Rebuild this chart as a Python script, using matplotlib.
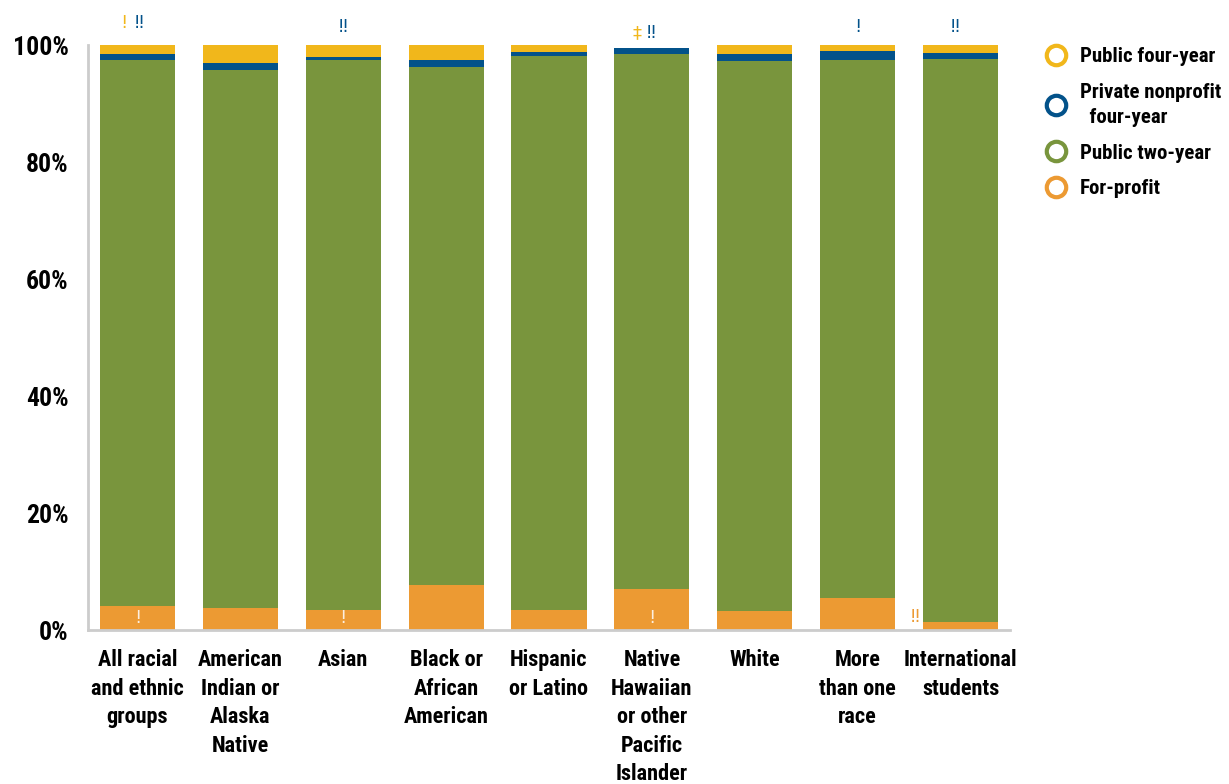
import matplotlib
matplotlib.use("Agg")
import matplotlib.pyplot as plt
from matplotlib.lines import Line2D
from matplotlib import font_manager
import numpy as np

# pick a narrow face: Roboto Condensed / Liberation Narrow / DejaVu Condensed
files = [f.fname for f in font_manager.fontManager.ttflist]
FONT = None
for key in ["RobotoCondensed", "LiberationSansNarrow", "DejaVuSansCondensed.ttf"]:
    hits = [f for f in files if key in f]
    if hits:
        FONT = font_manager.FontProperties(fname=hits[0]).get_name()
        break
if FONT == "DejaVu Sans" or FONT is None:
    plt.rcParams["font.stretch"] = "condensed"
    FONT = "DejaVu Sans"
plt.rcParams["font.family"] = [FONT, "DejaVu Sans"]
plt.rcParams["font.weight"] = "bold"

groups = [
    "All racial\nand ethnic\ngroups",
    "American\nIndian or\nAlaska\nNative",
    "Asian",
    "Black or\nAfrican\nAmerican",
    "Hispanic\nor Latino",
    "Native\nHawaiian\nor other\nPacific\nIslander",
    "White",
    "More\nthan one\nrace",
    "International\nstudents",
]

# percent of students by sector, stacked bottom to top
for_profit = [4.1, 3.8, 3.4, 7.7, 3.4, 7.0, 3.2, 5.5, 1.4]
public_two_year = [93.4, 91.9, 94.0, 88.5, 94.7, 91.5, 94.1, 92.0, 96.2]
private_nonprofit = [1.0, 1.2, 0.5, 1.2, 0.7, 1.0, 1.2, 1.5, 1.0]
public_four_year = [1.5, 3.1, 2.1, 2.6, 1.2, 0.0, 1.5, 1.0, 1.4]

C_YEL = "#F1B71B"
C_BLU = "#03528A"
C_GRN = "#79953D"
C_ORG = "#EC9A33"

fig = plt.figure(figsize=(12.29, 7.84), dpi=100)
ax = fig.add_axes([0.0716, 0.1964, 0.7502, 0.7462])

x = np.arange(len(groups))
w = 0.73
b1 = np.array(for_profit)
b2 = b1 + np.array(public_two_year)
b3 = b2 + np.array(private_nonprofit)
ax.bar(x, for_profit, w, color=C_ORG)
ax.bar(x, public_two_year, w, bottom=b1, color=C_GRN)
ax.bar(x, private_nonprofit, w, bottom=b2, color=C_BLU)
ax.bar(x, public_four_year, w, bottom=b3, color=C_YEL)

ax.set_xlim(-0.48, 8.48)
ax.set_ylim(0, 100)
ax.set_yticks([0, 20, 40, 60, 80, 100])
ax.set_yticklabels(["0%", "20%", "40%", "60%", "80%", "100%"], fontsize=18.5)
ax.set_xticks(x)
ax.set_xticklabels(groups, fontsize=16, linespacing=1.38, va="top")
ax.tick_params(axis="y", length=0, pad=14)
ax.tick_params(axis="x", length=0, pad=14)
for s in ["top", "right"]:
    ax.spines[s].set_visible(False)
for s in ["left", "bottom"]:
    ax.spines[s].set_color("#cccccc")
    ax.spines[s].set_linewidth(2)

# reliability flags above and inside the bars
flags = [
    (-0.13, 103.7, "!", C_YEL),
    (0.02, 103.7, "\u203c", C_BLU),
    (2.0, 103.1, "\u203c", C_BLU),
    (4.86, 102.1, "\u2021", C_YEL),
    (4.99, 102.1, "\u203c", C_BLU),
    (7.0, 103.1, "!", C_BLU),
    (7.95, 103.1, "\u203c", C_BLU),
    (7.56, 2.3, "\u203c", C_ORG),
]
for fx, fy, t, c in flags:
    ax.text(fx, fy, t, color=c, fontsize=13, ha="center", va="center",
            clip_on=False, family=["DejaVu Sans"], fontweight="normal")
for i in [0, 2, 5]:
    ax.text(x[i], 2.1, "!", color="white", alpha=0.85, fontsize=13,
            ha="center", va="center", family=["DejaVu Sans"], fontweight="normal")

handles = [Line2D([], [], ls="none", marker="o", markersize=14,
                  markerfacecolor="none", markeredgewidth=3, markeredgecolor=c)
           for c in [C_YEL, C_BLU, C_GRN, C_ORG]]
labels = ["Public four-year", "Private nonprofit\n  four-year",
          "Public two-year", "For-profit"]
leg = ax.legend(handles, labels, loc="upper left", bbox_to_anchor=(1.025, 1.01),
                frameon=False, fontsize=15, handletextpad=0.45, labelspacing=0.78,
                borderaxespad=0, handlelength=1.4)
for t in leg.get_texts():
    t.set_linespacing(1.45)

fig.savefig("out.png", dpi=100)
